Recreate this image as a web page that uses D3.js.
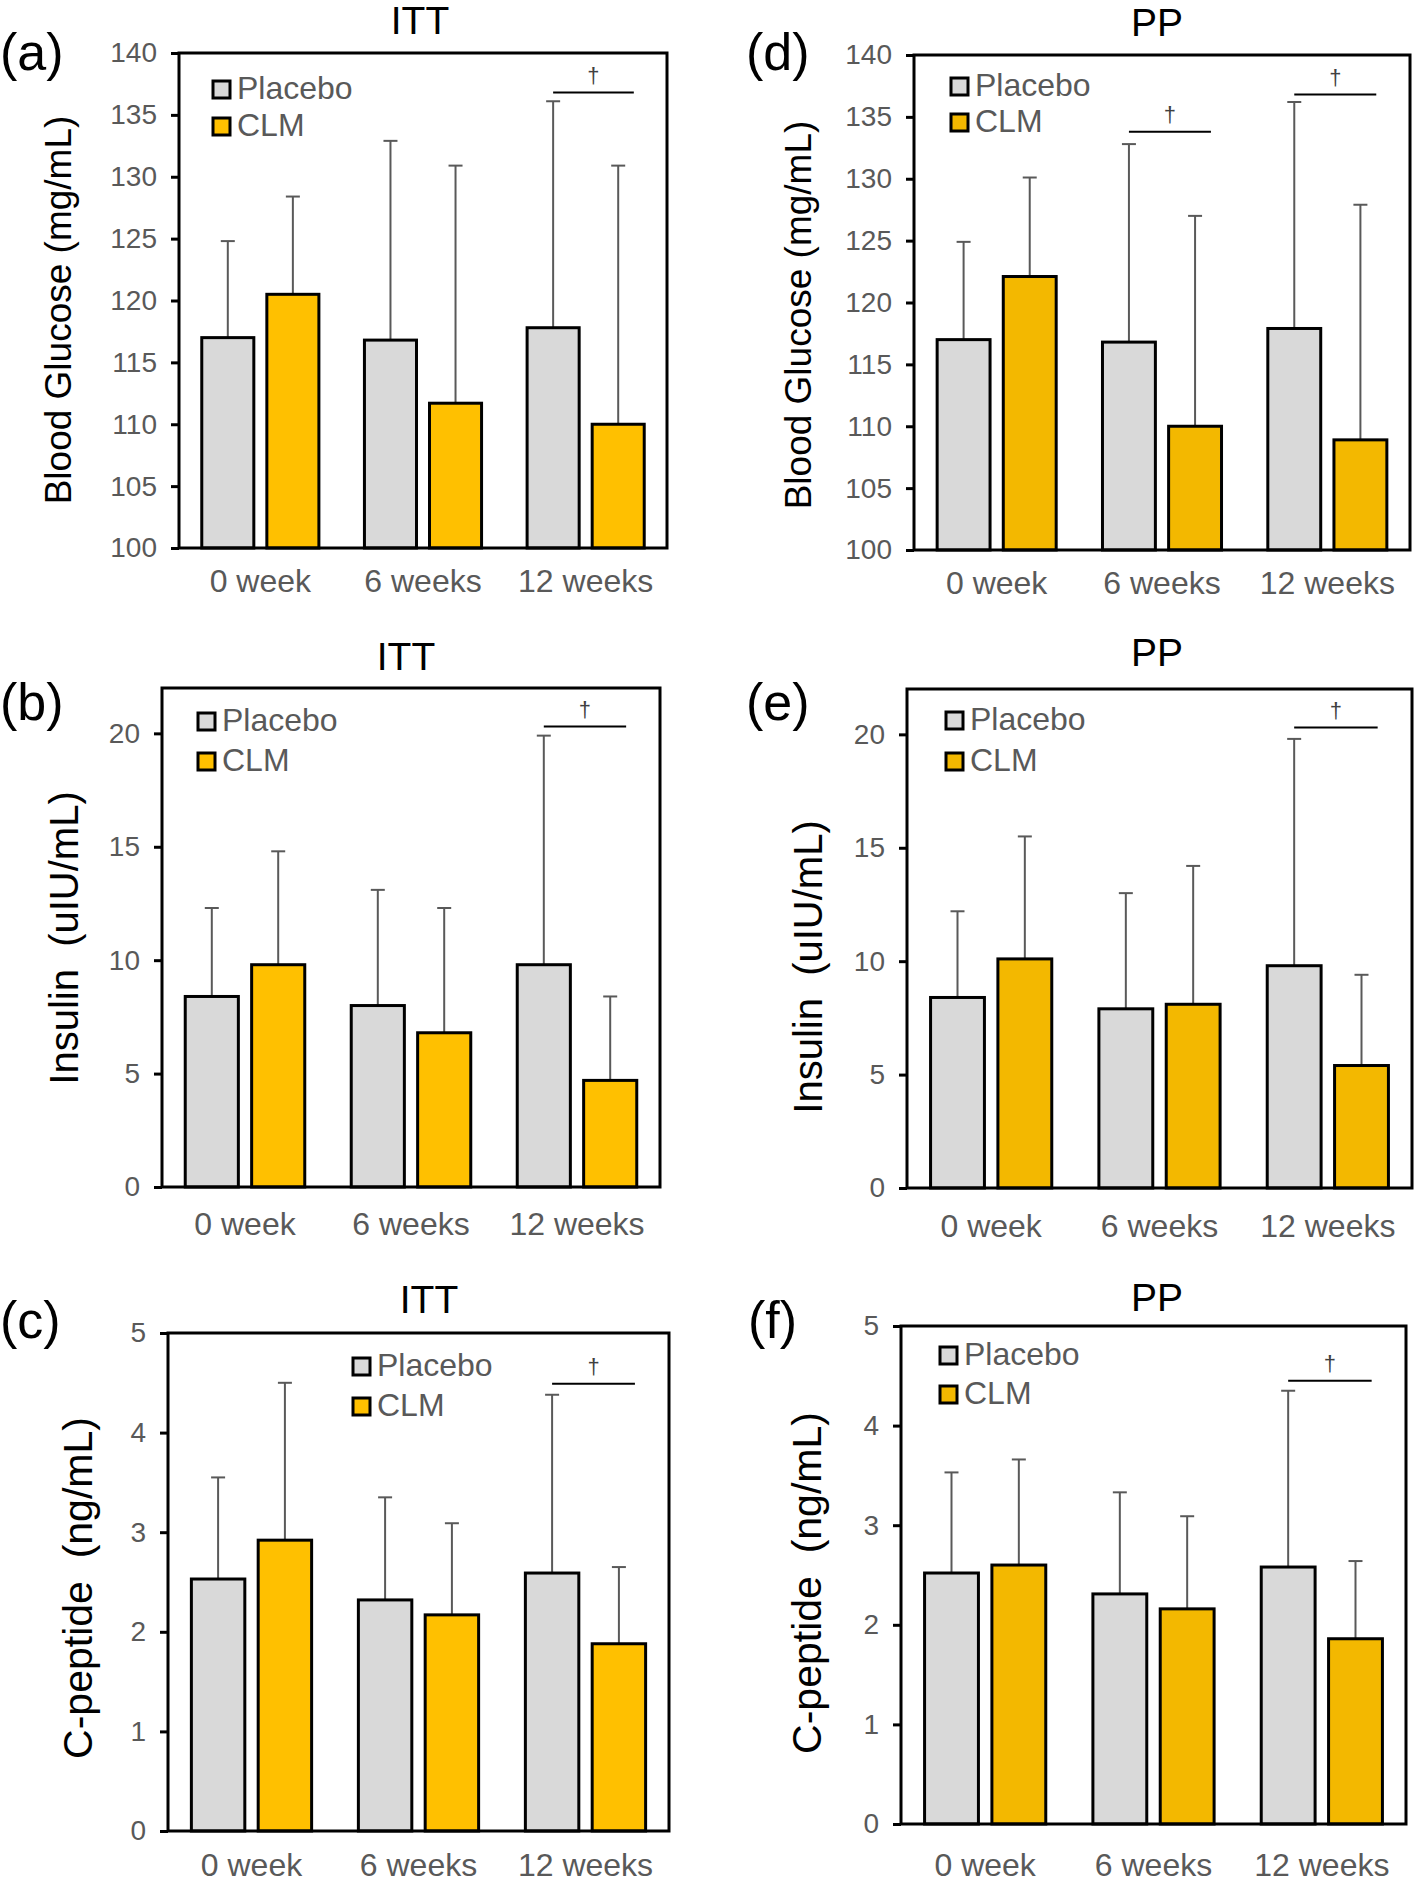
<!DOCTYPE html>
<html>
<head>
<meta charset="utf-8">
<script src="https://cdn.jsdelivr.net/npm/d3@7"></script>
<style>
body{margin:0;background:#fff;}
text{font-family:"Liberation Sans",Arial,sans-serif;}
</style>
</head>
<body>
<svg id="fig" width="1416" height="1884"></svg>
<script>
// categories
var groups = ["0 week", "6 weeks", "12 weeks"];
var series = ["Placebo", "CLM"];

// blood glucose (mean, +SD)
var gluITT_placebo = [117.0, 116.8, 117.8];
var gluITT_placebo_sd = [7.8, 16.1, 18.3];
var gluITT_clm = [120.5, 111.7, 110.0];
var gluITT_clm_sd = [7.9, 19.2, 20.9];
var gluPP_placebo = [117.0, 116.8, 117.9];
var gluPP_placebo_sd = [7.9, 16.0, 18.3];
var gluPP_clm = [122.1, 110.0, 108.9];
var gluPP_clm_sd = [8.0, 17.0, 19.0];

// insulin
var insITT_placebo = [8.4, 8.0, 9.8];
var insITT_placebo_sd = [3.9, 5.1, 10.1];
var insITT_clm = [9.8, 6.8, 4.7];
var insITT_clm_sd = [5.0, 5.5, 3.7];
var insPP_placebo = [8.4, 7.9, 9.8];
var insPP_placebo_sd = [3.8, 5.1, 10.0];
var insPP_clm = [10.1, 8.1, 5.4];
var insPP_clm_sd = [5.4, 6.1, 4.0];

// c-peptide
var cpITT_placebo = [2.53, 2.32, 2.59];
var cpITT_placebo_sd = [1.02, 1.03, 1.79];
var cpITT_clm = [2.92, 2.17, 1.88];
var cpITT_clm_sd = [1.58, 0.92, 0.77];
var cpPP_placebo = [2.52, 2.31, 2.58];
var cpPP_placebo_sd = [1.01, 1.02, 1.77];
var cpPP_clm = [2.60, 2.16, 1.86];
var cpPP_clm_sd = [1.06, 0.93, 0.78];

// axis ticks
var gluTicks = [100, 105, 110, 115, 120, 125, 130, 135, 140];
var insTicks = [0, 5, 10, 15, 20];
var cpTicks = [0, 1, 2, 3, 4, 5];

// significance bars: [group index, y value]
var gluITT_sig = [[2, 136.8]];
var gluPP_sig = [[1, 133.8], [2, 136.8]];
var insITT_sig = [[2, 20.3]];
var insPP_sig = [[2, 20.3]];
var cpITT_sig = [[2, 4.49]];
var cpPP_sig = [[2, 4.45]];

var grey = "#d9d9d9";

var panels = [
	{tag:"(a)", title:"ITT", ytitle:"Blood Glucose (mg/mL)", yfs:37,
	 vals:[gluITT_placebo, gluITT_clm], sds:[gluITT_placebo_sd, gluITT_clm_sd], sig:gluITT_sig,
	 domain:[100,140], ticks:gluTicks, yellow:"#ffc000",
	 L:179, R:667, T:53, B:548, tagX:0, tagY:70, titleX:420, titleY:34, ytX:58, ytY:310, xlDy:44, legX:213, legY:81, legDy:37},
	{tag:"(d)", title:"PP", ytitle:"Blood Glucose (mg/mL)", yfs:37,
	 vals:[gluPP_placebo, gluPP_clm], sds:[gluPP_placebo_sd, gluPP_clm_sd], sig:gluPP_sig,
	 domain:[100,140], ticks:gluTicks, yellow:"#f3b800",
	 L:914, R:1410, T:55, B:550, tagX:746, tagY:70, titleX:1157, titleY:36, ytX:798, ytY:315, xlDy:44, legX:951, legY:78, legDy:36},
	{tag:"(b)", title:"ITT", ytitle:"Insulin  (uIU/mL)", yfs:40,
	 vals:[insITT_placebo, insITT_clm], sds:[insITT_placebo_sd, insITT_clm_sd], sig:insITT_sig,
	 domain:[0,22], ticks:insTicks, yellow:"#ffc000",
	 L:162, R:660, T:688, B:1187, tagX:0, tagY:720, titleX:406, titleY:670, ytX:64, ytY:938, xlDy:48, legX:198, legY:713, legDy:40},
	{tag:"(e)", title:"PP", ytitle:"Insulin  (uIU/mL)", yfs:40,
	 vals:[insPP_placebo, insPP_clm], sds:[insPP_placebo_sd, insPP_clm_sd], sig:insPP_sig,
	 domain:[0,22], ticks:insTicks, yellow:"#f3b800",
	 L:907, R:1412, T:689, B:1188, tagX:746, tagY:720, titleX:1157, titleY:666, ytX:808, ytY:967, xlDy:49, legX:946, legY:712, legDy:41},
	{tag:"(c)", title:"ITT", ytitle:"C-peptide  (ng/mL)", yfs:41,
	 vals:[cpITT_placebo, cpITT_clm], sds:[cpITT_placebo_sd, cpITT_clm_sd], sig:cpITT_sig,
	 domain:[0,5], ticks:cpTicks, yellow:"#ffc000",
	 L:168, R:669, T:1333, B:1831, tagX:0, tagY:1338, titleX:429, titleY:1313, ytX:78, ytY:1588, xlDy:45, legX:353, legY:1358, legDy:40},
	{tag:"(f)", title:"PP", ytitle:"C-peptide  (ng/mL)", yfs:41,
	 vals:[cpPP_placebo, cpPP_clm], sds:[cpPP_placebo_sd, cpPP_clm_sd], sig:cpPP_sig,
	 domain:[0,5], ticks:cpTicks, yellow:"#f3b800",
	 L:901, R:1406, T:1326, B:1824, tagX:748, tagY:1338, titleX:1157, titleY:1311, ytX:807, ytY:1583, xlDy:52, legX:940, legY:1347, legDy:39}
];

var svg = d3.select("#fig");
svg.append("rect").attr("width",1416).attr("height",1884).attr("fill","#fff");

panels.forEach(function(p){
	var g = svg.append("g");
	var x = d3.scaleBand().domain(groups).range([p.L, p.R]);
	var y = d3.scaleLinear().domain(p.domain).range([p.B, p.T]);
	var band = x.bandwidth();
	var bw = band*0.32, gap = band*0.08;
	var fills = [grey, p.yellow];

	function barX(gi, si){
		return x(groups[gi]) + band/2 + (si===0 ? -gap/2-bw : gap/2);
	}

	var rows = [];
	series.forEach(function(s, si){
		groups.forEach(function(gr, gi){
			rows.push({s:si, g:gi, v:p.vals[si][gi], sd:p.sds[si][gi]});
		});
	});

	// error bars (upper only)
	var eb = g.selectAll("g.eb").data(rows).enter().append("g").attr("class","eb");
	eb.append("line")
		.attr("x1",function(d){return barX(d.g,d.s)+bw/2})
		.attr("x2",function(d){return barX(d.g,d.s)+bw/2})
		.attr("y1",function(d){return y(d.v)})
		.attr("y2",function(d){return y(d.v+d.sd)})
		.attr("stroke","#595959").attr("stroke-width",2);
	eb.append("line")
		.attr("x1",function(d){return barX(d.g,d.s)+bw/2-7})
		.attr("x2",function(d){return barX(d.g,d.s)+bw/2+7})
		.attr("y1",function(d){return y(d.v+d.sd)})
		.attr("y2",function(d){return y(d.v+d.sd)})
		.attr("stroke","#595959").attr("stroke-width",2);

	// bars
	g.selectAll("rect.bar").data(rows).enter().append("rect").attr("class","bar")
		.attr("x",function(d){return barX(d.g,d.s)})
		.attr("y",function(d){return y(d.v)})
		.attr("width",bw)
		.attr("height",function(d){return p.B - y(d.v)})
		.attr("fill",function(d){return fills[d.s]})
		.attr("stroke","#000").attr("stroke-width",3);

	// frame
	g.append("rect").attr("x",p.L).attr("y",p.T).attr("width",p.R-p.L).attr("height",p.B-p.T)
		.attr("fill","none").attr("stroke","#000").attr("stroke-width",3);

	// y axis
	var ax = g.append("g").attr("transform","translate("+p.L+",0)")
		.call(d3.axisLeft(y).tickValues(p.ticks).tickFormat(d3.format("d")).tickSize(8).tickPadding(14));
	ax.select(".domain").remove();
	ax.selectAll(".tick line").attr("stroke","#000").attr("stroke-width",3);
	ax.selectAll(".tick text").attr("fill","#595959").style("font-size","28px")
		.style("font-family","'Liberation Sans',Arial,sans-serif");

	// x labels
	g.selectAll("text.xl").data(groups).enter().append("text").attr("class","xl")
		.attr("x",function(d){return x(d)+band/2})
		.attr("y",p.B+p.xlDy)
		.attr("text-anchor","middle")
		.attr("fill","#595959")
		.style("font-size","32px")
		.text(function(d){return d});

	// titles
	g.append("text").attr("x",p.titleX).attr("y",p.titleY).attr("text-anchor","middle")
		.style("font-size","39px").attr("fill","#000").text(p.title);
	g.append("text").attr("x",p.tagX).attr("y",p.tagY)
		.style("font-size","52px").attr("fill","#000").text(p.tag);
	g.append("text")
		.attr("transform","translate("+p.ytX+","+p.ytY+") rotate(-90)")
		.attr("text-anchor","middle").attr("dy","0.35em")
		.style("font-size",p.yfs+"px").style("white-space","pre")
		.attr("fill","#000").text(p.ytitle);

	// legend
	var leg = g.selectAll("g.leg").data(series).enter().append("g").attr("class","leg")
		.attr("transform",function(d,i){return "translate("+p.legX+","+(p.legY+i*p.legDy)+")"});
	leg.append("rect").attr("width",17).attr("height",17)
		.attr("fill",function(d,i){return fills[i]})
		.attr("stroke","#000").attr("stroke-width",3);
	leg.append("text").attr("x",24).attr("y",18)
		.attr("fill","#595959").style("font-size","32px")
		.text(function(d){return d});

	// significance
	var sg = g.selectAll("g.sig").data(p.sig).enter().append("g").attr("class","sig");
	sg.append("line")
		.attr("x1",function(d){return barX(d[0],0)+bw/2})
		.attr("x2",function(d){return barX(d[0],1)+bw*0.8})
		.attr("y1",function(d){return y(d[1])})
		.attr("y2",function(d){return y(d[1])})
		.attr("stroke","#000").attr("stroke-width",2);
	sg.append("text")
		.attr("x",function(d){return (barX(d[0],0)+bw/2 + barX(d[0],1)+bw*0.8)/2})
		.attr("y",function(d){return y(d[1])-10})
		.attr("text-anchor","middle").attr("fill","#404040")
		.style("font-size","22px").text("\u2020");
});
</script>
</body>
</html>
